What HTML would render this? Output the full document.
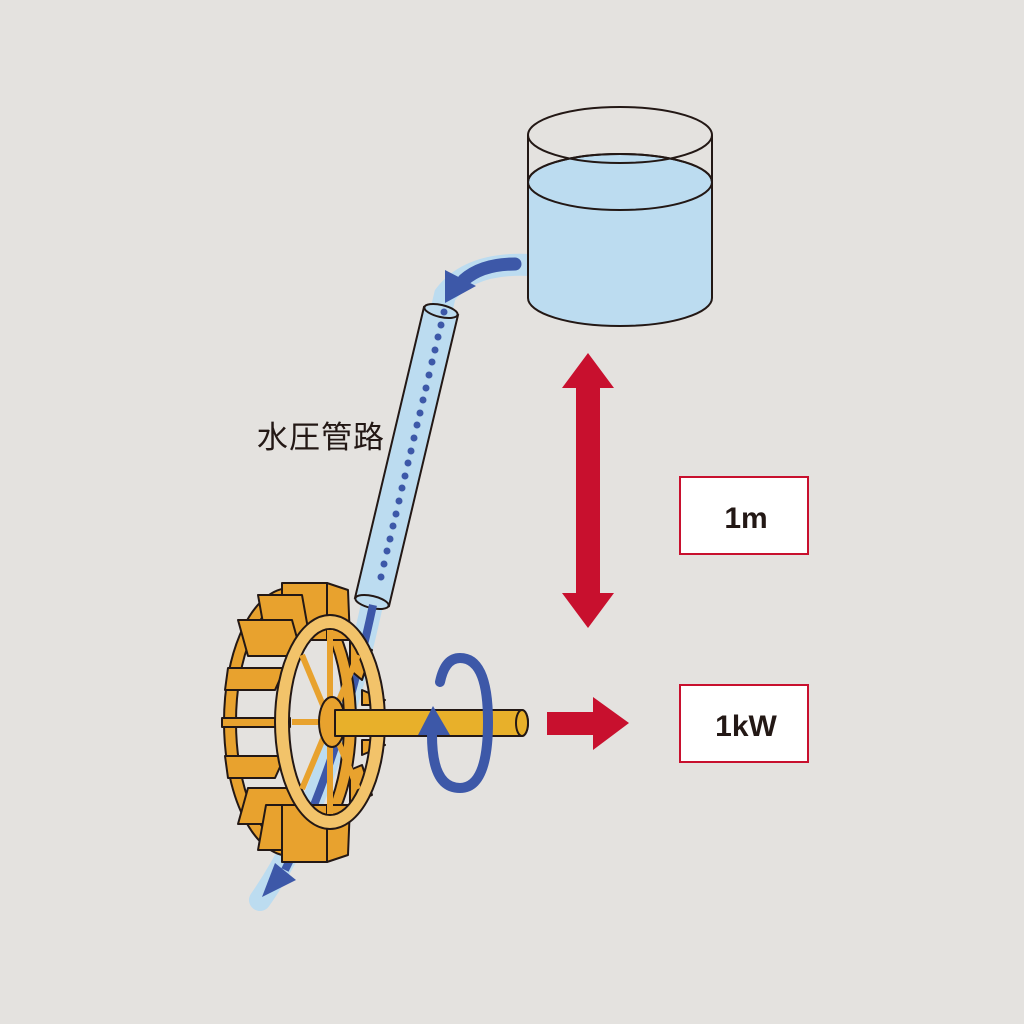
<!DOCTYPE html>
<html><head><meta charset="utf-8"><style>html,body{margin:0;padding:0;background:#e4e2df}svg{display:block}</style></head><body>
<svg width="1024" height="1024" viewBox="0 0 1024 1024" xmlns="http://www.w3.org/2000/svg">
<rect width="1024" height="1024" fill="#e4e2df"/>
<path d="M530 265 Q470 262 445 295 L373 600 Q330 800 260 900" fill="none" stroke="#bcdcf0" stroke-width="22" stroke-linecap="round"/>
<path d="M528 182 L528 298 A92 28 0 0 0 712 298 L712 182 A92 28 0 0 0 528 182 Z" fill="#bcdcf0" stroke="#231815" stroke-width="2"/>
<ellipse cx="620" cy="182" rx="92" ry="28" fill="none" stroke="#231815" stroke-width="2"/>
<path d="M528 135 L528 182 M712 135 L712 182" stroke="#231815" stroke-width="2"/>
<ellipse cx="620" cy="135" rx="92" ry="28" fill="none" stroke="#231815" stroke-width="2"/>
<path d="M515 264 Q482 264 464 280" fill="none" stroke="#3d58a8" stroke-width="13" stroke-linecap="round"/>
<polygon points="445,270 445,303 476,286" fill="#3d58a8"/>
<path d="M424 307 L355 598 L389 606 L458 315 Z" fill="#bcdcf0" stroke="#231815" stroke-width="2"/>
<ellipse cx="441" cy="311" rx="17" ry="6" transform="rotate(13 441 311)" fill="#bcdcf0" stroke="#231815" stroke-width="2"/>
<ellipse cx="372" cy="602" rx="17" ry="6" transform="rotate(13 372 602)" fill="#bcdcf0" stroke="#231815" stroke-width="2"/>
<g fill="#3d58a8">
<circle cx="444" cy="312" r="3.5"/><circle cx="441" cy="325" r="3.5"/><circle cx="438" cy="337" r="3.5"/><circle cx="435" cy="350" r="3.5"/><circle cx="432" cy="362" r="3.5"/><circle cx="429" cy="375" r="3.5"/><circle cx="426" cy="388" r="3.5"/><circle cx="423" cy="400" r="3.5"/><circle cx="420" cy="413" r="3.5"/><circle cx="417" cy="425" r="3.5"/><circle cx="414" cy="438" r="3.5"/><circle cx="411" cy="451" r="3.5"/><circle cx="408" cy="463" r="3.5"/><circle cx="405" cy="476" r="3.5"/><circle cx="402" cy="488" r="3.5"/><circle cx="399" cy="501" r="3.5"/><circle cx="396" cy="514" r="3.5"/><circle cx="393" cy="526" r="3.5"/><circle cx="390" cy="539" r="3.5"/><circle cx="387" cy="551" r="3.5"/><circle cx="384" cy="564" r="3.5"/><circle cx="381" cy="577" r="3.5"/>
</g>
<path d="M373 605 Q340 760 285 870" fill="none" stroke="#3d58a8" stroke-width="8"/>
<polygon points="262,897 275,863 296,880" fill="#3d58a8"/>
<text x="257" y="448" font-family="Liberation Sans, Noto Sans CJK JP, sans-serif" font-size="31" letter-spacing="1" fill="#231815">水圧管路</text>
<g stroke="#231815" stroke-width="2" stroke-linejoin="round">
<ellipse cx="290" cy="722" rx="60" ry="128" fill="none" stroke="#e8a22e" stroke-width="12"/>
<ellipse cx="290" cy="722" rx="66" ry="134" fill="none"/>
<ellipse cx="290" cy="722" rx="54" ry="122" fill="none"/>
<polygon points="282,583 327,583 327,640 282,640" fill="#e8a22e"/>
<polygon points="258,595 302,595 310,640 266,640" fill="#e8a22e"/>
<polygon points="238,620 292,620 302,656 248,656" fill="#e8a22e"/>
<polygon points="228,668 285,668 275,690 225,690" fill="#e8a22e"/>
<polygon points="222,718 290,718 290,727 222,727" fill="#e8a22e"/>
<polygon points="225,756 285,756 275,778 228,778" fill="#e8a22e"/>
<polygon points="248,788 302,788 292,824 238,824" fill="#e8a22e"/>
<polygon points="266,805 310,805 302,850 258,850" fill="#e8a22e"/>
<polygon points="282,805 327,805 327,862 282,862" fill="#e8a22e"/>
<polygon points="327,583 348,590 350,640 327,640" fill="#e8a22e"/>
<polygon points="327,805 350,805 348,855 327,862" fill="#e8a22e"/>
<polygon points="350,640 372,650 362,680 350,670" fill="#e8a22e"/>
<polygon points="350,770 362,765 372,795 350,805" fill="#e8a22e"/>
<polygon points="362,690 385,700 378,705 362,705" fill="#e8a22e"/>
<polygon points="362,740 378,740 385,745 362,755" fill="#e8a22e"/>
<ellipse cx="330" cy="722" rx="48" ry="100" fill="none" stroke="#f2c36a" stroke-width="14"/>
<ellipse cx="330" cy="722" rx="55" ry="107" fill="none"/>
<ellipse cx="330" cy="722" rx="41" ry="93" fill="none"/>
<g stroke="#e8a22e" stroke-width="6">
<line x1="330" y1="630" x2="330" y2="814"/><line x1="292" y1="722" x2="368" y2="722"/>
<line x1="302" y1="655" x2="358" y2="789"/><line x1="358" y1="655" x2="302" y2="789"/>
</g>
<ellipse cx="332" cy="722" rx="13" ry="25" fill="#e8a22e"/>
<path d="M335 710 L522 710 A6 13 0 0 1 522 736 L335 736 Z" fill="#e8b02a"/>
<ellipse cx="522" cy="723" rx="6" ry="13" fill="#e8b02a"/>
</g>
<path d="M440 682 Q445 658 460 658 Q488 658 488 722 Q488 788 460 788 Q432 788 432 735" fill="none" stroke="#3d58a8" stroke-width="10" stroke-linecap="round"/>
<polygon points="433,706 418,735 450,735" fill="#3d58a8"/>
<polygon points="588,353 614,388 600,388 600,593 614,593 588,628 562,593 576,593 576,388 562,388" fill="#c8102e"/>
<polygon points="547,712 593,712 593,697 629,723 593,750 593,735 547,735" fill="#c8102e"/>
<rect x="680" y="477" width="128" height="77" fill="#fff" stroke="#c8102e" stroke-width="2"/>
<rect x="680" y="685" width="128" height="77" fill="#fff" stroke="#c8102e" stroke-width="2"/>
<text x="746" y="528" text-anchor="middle" font-family="Liberation Sans, sans-serif" font-weight="bold" font-size="30" fill="#231815">1m</text>
<text x="746" y="736" text-anchor="middle" font-family="Liberation Sans, sans-serif" font-weight="bold" font-size="30" fill="#231815">1kW</text>
</svg>
</body></html>
